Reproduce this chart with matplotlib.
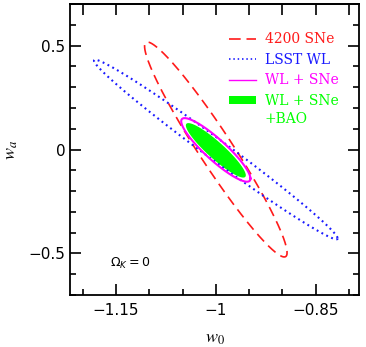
import numpy as np
import matplotlib
matplotlib.use("Agg")
import matplotlib.pyplot as plt
from matplotlib.ticker import MultipleLocator, FixedLocator, NullFormatter
from matplotlib.patches import Patch
from matplotlib.lines import Line2D

# Ellipse parameters (centre, half-extent in w0, half-extent in wa, correlation)
names = ["4200 SNe", "LSST WL", "WL + SNe", "WL + SNe"]
center_w0 = [-1.0, -1.0, -1.0, -1.0]
center_wa = [0.0, 0.0, -0.002, -0.004]
half_w0 = [0.107, 0.183, 0.052, 0.045]
half_wa = [0.517, 0.432, 0.153, 0.131]
corr = [-0.96, -0.99, -0.90, -0.915]
colors = ["#ff1a1a", "#1a1aff", "#ff00ff", "#00ff00"]

x_major = [-1.15, -1.0, -0.85]
y_major = [-0.5, 0.0, 0.5]
x_labels = ["\u22121.15", "\u22121", "\u22120.85"]
y_labels = ["\u22120.5", "0", "0.5"]


def ellipse(i, n=400):
    t = np.linspace(0, 2 * np.pi, n)
    r = corr[i]
    x = center_w0[i] + half_w0[i] * np.cos(t)
    y = center_wa[i] + half_wa[i] * (r * np.cos(t) - np.sqrt(1 - r * r) * np.sin(t))
    return x, y


fig = plt.figure(figsize=(3.66, 3.47), dpi=100)
ax = fig.add_axes([70 / 366, 1 - 295 / 347, 289 / 366, 291 / 347])

# red dashed, SNe only
x, y = ellipse(0)
red, = ax.plot(x, y, color=colors[0], lw=1.2)
red.set_dashes([6, 3.5])

# blue dotted, weak lensing
x, y = ellipse(1)
blue, = ax.plot(x, y, color=colors[1], lw=1.5)
blue.set_dashes([0.9, 1.7])

# magenta solid, combined
x, y = ellipse(2)
ax.plot(x, y, color=colors[2], lw=1.5)

# green filled, with BAO
x, y = ellipse(3)
ax.fill(x, y, color=colors[3], lw=0)

ax.set_xlim(-1.219, -0.785)
ax.set_ylim(-0.70, 0.70)

ax.xaxis.set_major_locator(FixedLocator(x_major))
ax.xaxis.set_minor_locator(MultipleLocator(0.05))
ax.set_xticklabels(x_labels)
ax.yaxis.set_major_locator(FixedLocator(y_major))
ax.yaxis.set_minor_locator(MultipleLocator(0.1))
ax.set_yticklabels(y_labels)
ax.tick_params(which="both", direction="in", right=True, top=False, width=1.2,
               labelsize=11, colors="black")
ax.tick_params(which="major", length=8)
ax.tick_params(which="minor", length=4.3)
ax.tick_params(axis="x", pad=6)

top = ax.secondary_xaxis("top")
top.xaxis.set_major_locator(MultipleLocator(0.05))
top.xaxis.set_major_formatter(NullFormatter())
top.tick_params(direction="in", length=8, width=1.2)

for s in list(ax.spines.values()) + list(top.spines.values()):
    s.set_linewidth(1.3)

ax.set_xlabel(r"$w_0$", fontsize=13, math_fontfamily="stix", labelpad=8)
ax.set_ylabel(r"$w_a$", fontsize=13, math_fontfamily="stix", labelpad=6)

ax.text(0.14, 0.107, r"$\Omega_K = 0$", transform=ax.transAxes, fontsize=9,
        math_fontfamily="dejavusans", va="center")

# legend
red_h = Line2D([], [], color=colors[0], lw=1.2, dashes=[7, 3.5])
blue_h = Line2D([], [], color=colors[1], lw=1.2, dashes=[0.9, 1.7])
mag_h = Line2D([], [], color=colors[2], lw=1.0)
grn_h = Patch(facecolor=colors[3], edgecolor="none")
leg = ax.legend([red_h, blue_h, mag_h, grn_h], names, loc="upper left",
                bbox_to_anchor=(0.549, 0.903), frameon=False, borderpad=0,
                borderaxespad=0, handlelength=1.95, handleheight=0.5,
                handletextpad=0.65, labelspacing=0.47,
                prop={"family": "DejaVu Serif", "size": 10})
for txt, c in zip(leg.get_texts(), colors):
    txt.set_color(c)

ax.text(264.7, 347 - 119, "+BAO", transform=None, color=colors[3],
        family="DejaVu Serif", fontsize=10, va="center")

fig.savefig("out.png", dpi=100)
